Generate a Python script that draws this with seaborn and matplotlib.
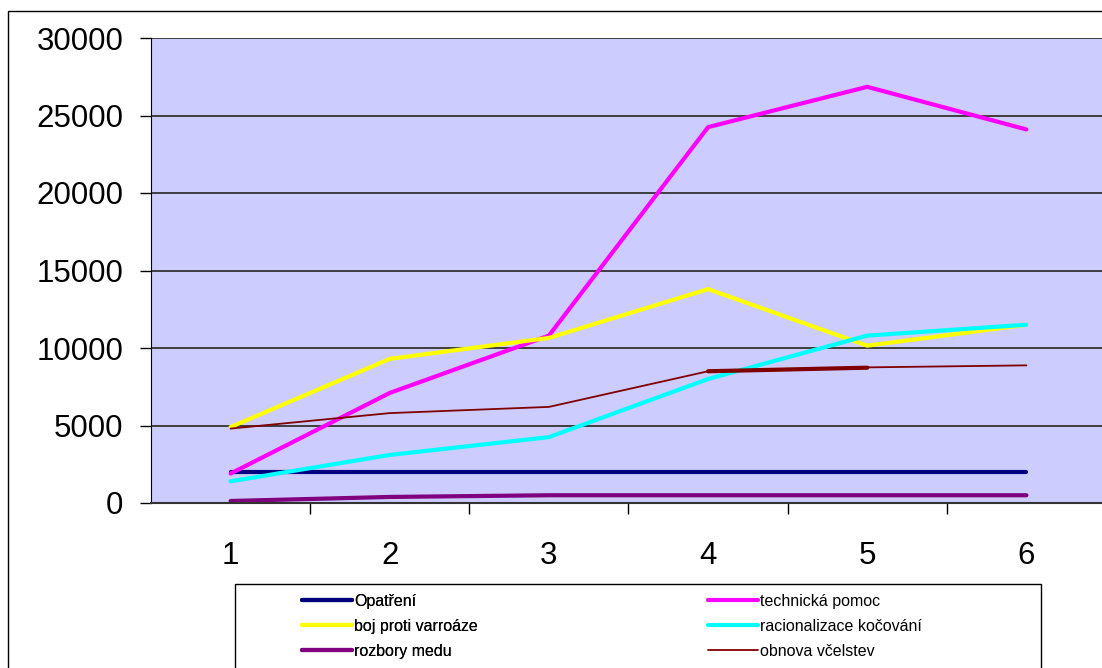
import numpy as np
import pandas as pd
import seaborn as sns
import matplotlib.pyplot as plt
from matplotlib.lines import Line2D
from matplotlib.patches import Rectangle

# values
kategorie = [1, 2, 3, 4, 5, 6]
opatreni = [2000, 2000, 2000, 2000, 2000, 2000]
technicka_pomoc = [1900, 7100, 10800, 24250, 26850, 24100]
boj_varroaze = [4900, 9300, 10650, 13800, 10150, 11500]
racionalizace = [1400, 3100, 4250, 8000, 10800, 11500]
rozbory_medu = [130, 390, 500, 500, 500, 500]
obnova = [4800, 5800, 6200, 8500, 8750, 8880]
# short thick dark-red piece between 4 and 5 (drawn twice in the original)
obnova_kus = [np.nan, np.nan, np.nan, 8500, 8730, np.nan]

nazvy = ["Opatření", "technická pomoc", "boj proti varroáze",
         "racionalizace kočování", "rozbory medu", "obnova včelstev"]
barvy = ["#000080", "#FF00FF", "#FFFF00", "#00FFFF", "#800080", "#800000"]
tloustky = [3.0, 3.0, 3.0, 3.0, 3.0, 1.3]

serie = [opatreni, technicka_pomoc, boj_varroaze, racionalizace, rozbory_medu, obnova]
df = pd.DataFrame({n: s for n, s in zip(nazvy, serie)}, index=kategorie)

sns.set_style("white")
plt.rcParams['font.family'] = ['Liberation Sans', 'DejaVu Sans']
plt.rcParams['text.color'] = 'black'
plt.rcParams['xtick.color'] = 'black'
plt.rcParams['ytick.color'] = 'black'

W, H = 1102, 668
fig = plt.figure(figsize=(W / 100, H / 100), dpi=100)
ax = fig.add_axes([151 / W, 1 - 503 / H, (1106 - 151) / W, (503 - 38) / H])
ax.set_facecolor("#CCCCFF")

for n, c, lw in zip(nazvy, barvy, tloustky):
    sns.lineplot(x=df.index, y=df[n], ax=ax, color=c, linewidth=lw, legend=False)
sns.lineplot(x=kategorie, y=obnova_kus, ax=ax, color="#800000", linewidth=3.0, legend=False)

ax.set_xlim(0.5, 6.5)
ax.set_ylim(0, 30000)
ax.set_yticks(range(0, 30001, 5000))
ax.set_xticks(kategorie)
ax.set_xticks([1.5, 2.5, 3.5, 4.5, 5.5], minor=True)
ax.set_xlabel("")
ax.set_ylabel("")

for v in range(5000, 30001, 5000):
    ax.axhline(v, color="#333333", lw=1.3, zorder=0.5)

ax.tick_params(axis="y", which="major", direction="out", length=8, width=1,
               color="black", labelcolor="black", labelsize=22.5, pad=12, left=True)
ax.tick_params(axis="x", which="major", length=0, labelsize=22.5,
               labelcolor="black", pad=27)
ax.tick_params(axis="x", which="minor", direction="out", length=8, width=1,
               color="black", bottom=True)

for s in ["top", "right"]:
    ax.spines[s].set_visible(False)
ax.spines["left"].set_color("black")
ax.spines["bottom"].set_color("#333333")
ax.spines["bottom"].set_linewidth(1.5)

# frames around chart and legend
fig.patches.append(Rectangle((8 / W, 1 - 700 / H), 1300 / W, (700 - 11) / H,
                             transform=fig.transFigure, fill=False,
                             edgecolor="black", lw=1, zorder=0))
fig.patches.append(Rectangle((235 / W, 1 - 700 / H), (1041 - 235) / W, (700 - 584) / H,
                             transform=fig.transFigure, fill=False,
                             edgecolor="black", lw=1))

handles = [Line2D([], [], color=c, lw=lw) for c, lw in zip(barvy, tloustky)]
pismo = {"family": ["Liberation Sans"], "size": 11.5}
leg1 = fig.legend(handles=handles[0::2], labels=nazvy[0::2], loc="upper left",
                  bbox_to_anchor=(302 / W, 1 - 594 / H), frameon=False, prop=pismo,
                  borderpad=0, borderaxespad=0, handlelength=3.1,
                  handletextpad=0.15, labelspacing=0.62)
fig.legend(handles=handles[1::2], labels=nazvy[1::2], loc="upper left",
           bbox_to_anchor=(708 / W, 1 - 594 / H), frameon=False, prop=pismo,
           borderpad=0, borderaxespad=0, handlelength=3.1,
           handletextpad=0.15, labelspacing=0.62)
fig.add_artist(leg1)

fig.savefig("out.png", dpi=100)
